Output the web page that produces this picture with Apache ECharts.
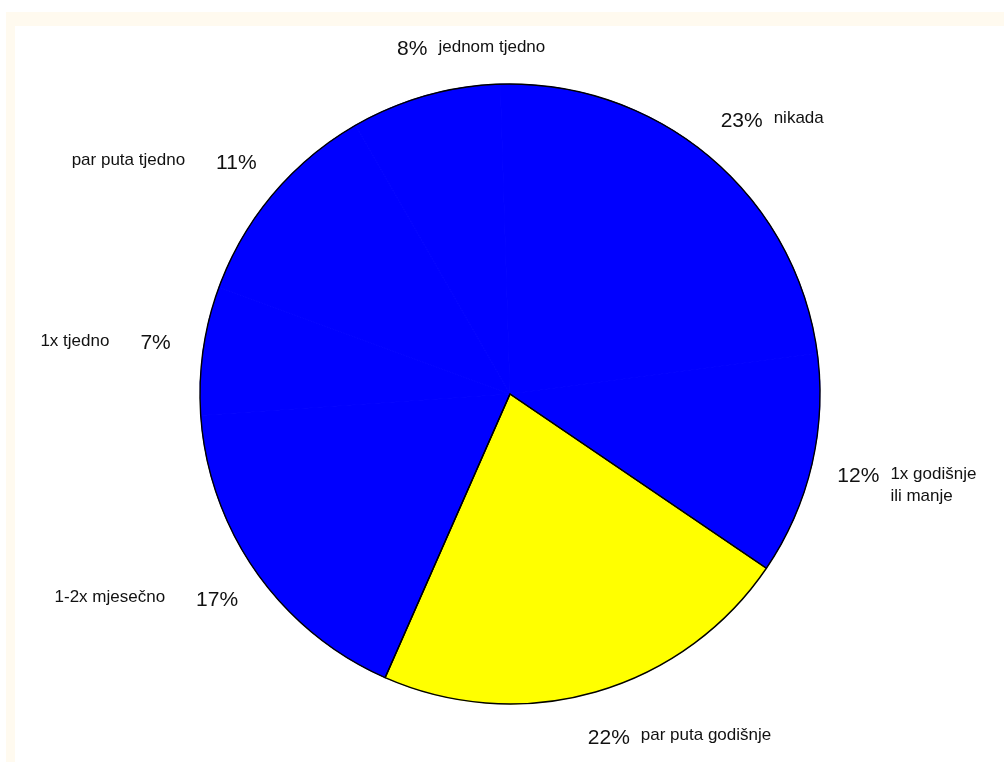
<!DOCTYPE html>
<html><head><meta charset="utf-8">
<script src="https://cdn.jsdelivr.net/npm/echarts@6/dist/echarts.min.js"></script>
<style>
html,body{margin:0;padding:0;background:#fff;width:1004px;height:762px;overflow:hidden}
#frame{position:absolute;left:6px;top:12px;right:0;bottom:0;background:#fffaef}
#inner{position:absolute;left:15px;top:26px;right:0;bottom:0;background:#fff}
#chart{position:absolute;left:0;top:0;width:1004px;height:762px}
</style></head><body>
<div id="frame"></div><div id="inner"></div><div id="chart"></div>
<script>
// ---- data (percent shares) ----
const categories = ['jednom tjedno', 'nikada', '1x godišnje\nili manje', 'par puta godišnje', '1-2x mjesečno', '1x tjedno', 'par puta tjedno'];
const values = [7.8, 23.4, 11.6, 22.1, 17.3, 6.7, 11.1];
const sliceColors = ['#0000ff', '#0000ff', '#0000ff', '#ffff00', '#0000ff', '#0000ff', '#0000ff'];

// ---- layout ----
const CX = 510, CY = 394, R = 310, START = 119.88, LABEL_R = 358;
const FONT = 'Arial, "Liberation Sans", sans-serif';
const P_SIZE = 21, N_SIZE = 17, P_LH = 22, N_LH = 16;

const total = values.reduce((a, b) => a + b, 0);
const percentLabels = values.map(v => Math.round(100 * v / total) + '%');
const ctx = document.createElement('canvas').getContext('2d');
ctx.font = P_SIZE + 'px ' + FONT;

let cum = 0;
const layouts = values.map((v, i) => {
  const th = ((90 - START) + 360 * (cum + v / 2) / total) * Math.PI / 180;
  cum += v;
  const px = CX + LABEL_R * Math.sin(th), py = CY - LABEL_R * Math.cos(th);
  const pw = ctx.measureText(percentLabels[i]).width;
  const pctFirst = Math.sin(th) > -0.5;
  return { px, py, pw, pctFirst };
});

const baseRich = {
  p: { fontSize: P_SIZE, fontFamily: FONT, color: '#111', lineHeight: P_LH },
  n: { fontSize: N_SIZE, fontFamily: FONT, color: '#111', lineHeight: N_LH, verticalAlign: 'top' },
  g: { width: 11 },
  g2: { width: 31 }
};

const pieData = values.map((v, i) => {
  const L = layouts[i];
  const lines = categories[i].split('\n');
  let fmt;
  const rich = Object.assign({}, baseRich, { s: { width: L.pw + 11, lineHeight: N_LH + 4 } });
  if (L.pctFirst) {
    fmt = '{p|' + percentLabels[i] + '}{g| }{n|' + lines[0] + '}';
    for (let k = 1; k < lines.length; k++) fmt += '\n{s| }{n|' + lines[k] + '}';
  } else {
    fmt = '{n|' + lines.join('}\n{n|') + '}{g2| }{p|' + percentLabels[i] + '}';
  }
  return {
    name: categories[i], value: v,
    itemStyle: { color: sliceColors[i], borderColor: sliceColors[i], borderWidth: 1 },
    label: { formatter: fmt, rich: rich }
  };
});

// outline groups: the yellow slice and the rest
const yi = sliceColors.indexOf('#ffff00');
const before = values.slice(0, yi).reduce((a, b) => a + b, 0);
const outlineStart = (((START - 360 * before / total) % 360) + 360) % 360;
const outlineData = [{ value: values[yi] }, { value: total - values[yi] }];

const chart = echarts.init(document.getElementById('chart'), null, { renderer: 'canvas' });
chart.setOption({
  backgroundColor: 'transparent',
  animation: false,
  series: [
    {
      type: 'pie', center: [CX, CY], radius: R, startAngle: START, clockwise: true,
      avoidLabelOverlap: false, silent: true,
      label: { show: true, position: 'outside' },
      labelLine: { show: false },
      labelLayout: function (params) {
        const L = layouts[params.dataIndex];
        return {
          x: L.pctFirst ? L.px - L.pw / 2 : L.px + L.pw / 2,
          y: L.py - P_LH / 2,
          align: L.pctFirst ? 'left' : 'right',
          verticalAlign: 'top'
        };
      },
      data: pieData
    },
    {
      type: 'pie', center: [CX, CY], radius: R, startAngle: outlineStart, clockwise: true,
      silent: true, label: { show: false }, labelLine: { show: false },
      itemStyle: { color: 'rgba(0,0,0,0)', borderColor: '#000', borderWidth: 1.4 },
      data: outlineData
    }
  ]
});
</script>
</body></html>
